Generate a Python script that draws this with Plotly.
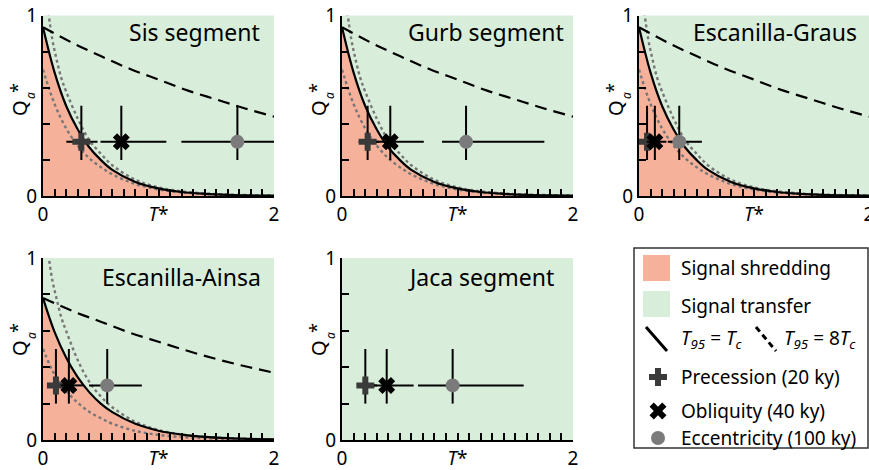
import plotly.graph_objects as go

W, H = 869, 470
FONT = "Noto Sans"
SALMON = "#F6B19B"
GREEN = "#D9EEDA"
DOTGRAY = "#777777"
CIRCGRAY = "#7B7B7B"
PLUSGRAY = "#3A3A3A"

# ---------------- data ----------------
panel_names = ["Sis segment", "Gurb segment", "Escanilla-Graus", "Escanilla-Ainsa", "Jaca segment"]

# solid curve (T95 = Tc), boundary of shredding
T_solid = [0, 0.1, 0.2, 0.3, 0.4, 0.5, 0.6, 0.8, 1.0, 1.2, 1.4, 1.6, 1.8, 2.0]
Q_solid_A = [0.935, 0.685, 0.50, 0.37, 0.27, 0.20, 0.145, 0.078, 0.042, 0.022, 0.012, 0.006, 0.003, 0.002]
Q_solid_B = [0.78, 0.594, 0.453, 0.345, 0.263, 0.20, 0.153, 0.089, 0.051, 0.030, 0.017, 0.010, 0.006, 0.003]

# dashed curve (T95 = 8Tc)
T_dash = [0, 0.25, 0.5, 0.75, 1.0, 1.25, 1.5, 1.75, 2.0]
Q_dash_A = [0.935, 0.85, 0.775, 0.705, 0.645, 0.585, 0.535, 0.485, 0.44]
Q_dash_B = [0.78, 0.71, 0.65, 0.59, 0.54, 0.49, 0.445, 0.405, 0.37]

# upper grey dotted curve
T_up = [0.04, 0.08, 0.12, 0.16, 0.2, 0.3, 0.4, 0.5, 0.6, 0.8, 1.0, 1.2, 1.4, 1.6, 2.0]
Q_up_A = [1.05, 0.87, 0.75, 0.65, 0.58, 0.43, 0.31, 0.235, 0.17, 0.09, 0.048, 0.026, 0.014, 0.008, 0.002]
Q_up_B = [1.05, 0.88, 0.77, 0.67, 0.60, 0.44, 0.32, 0.24, 0.18, 0.10, 0.055, 0.030, 0.017, 0.010, 0.003]

# lower grey dotted curve
T_low = [0, 0.1, 0.2, 0.3, 0.4, 0.5, 0.6, 0.8, 1.0, 1.2, 1.4, 1.6, 2.0]
Q_low_A = [0.70, 0.51, 0.375, 0.28, 0.21, 0.16, 0.12, 0.066, 0.036, 0.020, 0.011, 0.006, 0.002]
Q_low_B = [0.50, 0.36, 0.27, 0.205, 0.155, 0.12, 0.09, 0.05, 0.028, 0.016, 0.009, 0.005, 0.0015]

# points: [precession, obliquity, eccentricity]
T_pts = [[0.332, 0.678, 1.683], [0.222, 0.418, 1.074], [0.07, 0.138, 0.35],
         [0.112, 0.224, 0.556], [0.202, 0.387, 0.958]]
T_err_minus = [[0.13, 0.18, 0.485], [0.078, 0.12, 0.208], [0.06, 0.07, 0.10],
               [0.068, 0.07, 0.157], [0.072, 0.11, 0.30]]
T_err_plus = [[0.14, 0.39, 0.80], [0.10, 0.29, 0.678], [0.05, 0.10, 0.197],
              [0.07, 0.125, 0.30], [0.10, 0.233, 0.615]]
Q_pts = [0.30, 0.30, 0.30]
Q_err_plus = [0.20, 0.20, 0.20]
Q_err_minus = [0.10, 0.10, 0.10]

curve_sets = ["A", "A", "A", "B", None]

x_ticks = [0, 1, 2]
x_ticktext = ["0", "<i>T</i>*", "2"]
x_minor = [0.1 * i for i in range(1, 20)]
y_ticks = [0, 0.2, 0.4, 0.6, 0.8, 1.0]
y_ticktext = ["0", "", "", "", "", "1"]

# ---------------- layout geometry (pixels) ----------------
def px(x):
    return x / W

def py(y):
    return 1 - y / H

panels_px = [  # left, right, top, bottom
    (43, 274, 15.5, 196),
    (342, 573, 15.5, 196),
    (639, 869, 15.5, 196),
    (43, 274, 258, 440),
    (342, 573, 258, 440),
]

fig = go.Figure()
layout = dict(width=W, height=H, margin=dict(l=0, r=0, t=0, b=0, autoexpand=False),
              paper_bgcolor="white", plot_bgcolor="rgba(0,0,0,0)",
              showlegend=False, font=dict(family=FONT, color="black"))
shapes = []
annotations = []

for i in range(5):
    l, r, t, b = panels_px[i]
    xa = "xaxis" if i == 0 else f"xaxis{i+1}"
    ya = "yaxis" if i == 0 else f"yaxis{i+1}"
    xs = "x" if i == 0 else f"x{i+1}"
    ys = "y" if i == 0 else f"y{i+1}"
    layout[xa] = dict(domain=[px(l), px(r)], range=[0, 2], anchor=ys,
                      showline=True, linecolor="black", linewidth=2.2,
                      ticks="inside", ticklen=7, tickwidth=1.6, tickcolor="black",
                      tickvals=x_ticks, ticktext=x_ticktext,
                      tickfont=dict(size=19, family=FONT), automargin=False,
                      ticklabeloverflow="allow",
                      minor=dict(tickvals=x_minor, ticks="inside", ticklen=7,
                                 tickwidth=1.6, tickcolor="black", showgrid=False),
                      showgrid=False, zeroline=False, fixedrange=True)
    layout[ya] = dict(domain=[py(b), py(t)], range=[0, 1], anchor=xs,
                      showline=True, linecolor="black", linewidth=2.2,
                      ticks="inside", ticklen=7, tickwidth=1.6, tickcolor="black",
                      tickvals=y_ticks, ticktext=y_ticktext,
                      tickfont=dict(size=19, family=FONT), automargin=False,
                      showgrid=False, zeroline=False, fixedrange=True)
    # green (signal transfer) background
    shapes.append(dict(type="rect", xref=f"{xs} domain", yref=f"{ys} domain",
                       x0=0, x1=1, y0=0, y1=1, fillcolor=GREEN, line=dict(width=0),
                       layer="below"))

    cs = curve_sets[i]
    if cs is not None:
        qs = Q_solid_A if cs == "A" else Q_solid_B
        qd = Q_dash_A if cs == "A" else Q_dash_B
        qu = Q_up_A if cs == "A" else Q_up_B
        ql = Q_low_A if cs == "A" else Q_low_B
        fig.add_trace(go.Scatter(x=T_solid, y=qs, mode="lines", fill="tozeroy",
                                 fillcolor=SALMON, line=dict(width=0, shape="spline"),
                                 xaxis=xs, yaxis=ys, hoverinfo="skip"))
        fig.add_trace(go.Scatter(x=T_up, y=qu, mode="lines",
                                 line=dict(color=DOTGRAY, width=2.4, dash="3px,3px", shape="spline"),
                                 xaxis=xs, yaxis=ys))
        fig.add_trace(go.Scatter(x=T_low, y=ql, mode="lines",
                                 line=dict(color=DOTGRAY, width=2.4, dash="3px,3px", shape="spline"),
                                 xaxis=xs, yaxis=ys))
        fig.add_trace(go.Scatter(x=T_solid, y=qs, mode="lines",
                                 line=dict(color="black", width=2.2, shape="spline"),
                                 xaxis=xs, yaxis=ys))
        fig.add_trace(go.Scatter(x=T_dash, y=qd, mode="lines",
                                 line=dict(color="black", width=2.2, dash="12px,7px", shape="spline"),
                                 xaxis=xs, yaxis=ys))

    symbols = ["cross", "x", "circle"]
    colors = [PLUSGRAY, "black", CIRCGRAY]
    sizes = [15, 15, 14]
    for k in range(3):
        fig.add_trace(go.Scatter(
            x=[T_pts[i][k]], y=[Q_pts[k]], mode="markers",
            marker=dict(symbol=symbols[k], color=colors[k], size=sizes[k], line=dict(width=0)),
            error_x=dict(type="data", symmetric=False, array=[T_err_plus[i][k]],
                         arrayminus=[T_err_minus[i][k]], color="black", thickness=2, width=0),
            error_y=dict(type="data", symmetric=False, array=[Q_err_plus[k]],
                         arrayminus=[Q_err_minus[k]], color="black", thickness=2, width=0),
            xaxis=xs, yaxis=ys))

    # panel title
    title_right = [262, 566, 859, 263, 556][i]
    title_y = 32 if i < 3 else 277
    annotations.append(dict(text=panel_names[i], xref="paper", yref="paper",
                            x=px(title_right), y=py(title_y), xanchor="right", yanchor="middle",
                            showarrow=False, font=dict(size=23, family=FONT)))
    # y-axis title Q_a*
    qy = 108 if i < 3 else 348
    qx = l - 24
    annotations.append(dict(text="Q", xref="paper", yref="paper", x=px(qx), y=py(qy),
                            xanchor="center", yanchor="middle", textangle=-90,
                            showarrow=False, font=dict(size=20, family=FONT)))
    annotations.append(dict(text="<i>a</i>", xref="paper", yref="paper", x=px(qx + 12), y=py(qy - 12),
                            xanchor="center", yanchor="middle", textangle=-90,
                            showarrow=False, font=dict(size=12, family=FONT)))
    annotations.append(dict(text="*", xref="paper", yref="paper", x=px(qx - 2), y=py(qy - 20),
                            xanchor="center", yanchor="middle", textangle=-90,
                            showarrow=False, font=dict(size=18, family=FONT)))

# ---------------- legend (drawn manually) ----------------
shapes.append(dict(type="rect", xref="paper", yref="paper", x0=px(634), x1=px(868),
                   y0=py(448), y1=py(248), line=dict(color="#333333", width=1.5),
                   fillcolor="white", layer="below"))
shapes.append(dict(type="rect", xref="paper", yref="paper", x0=px(643), x1=px(670),
                   y0=py(281), y1=py(255), line=dict(width=0), fillcolor=SALMON))
shapes.append(dict(type="rect", xref="paper", yref="paper", x0=px(643), x1=px(670),
                   y0=py(317), y1=py(291), line=dict(width=0), fillcolor=GREEN))
shapes.append(dict(type="line", xref="paper", yref="paper", x0=px(646), x1=px(667),
                   y0=py(327), y1=py(351), line=dict(color="black", width=3)))
shapes.append(dict(type="line", xref="paper", yref="paper", x0=px(756), x1=px(776),
                   y0=py(327), y1=py(351), line=dict(color="black", width=3, dash="6px,4px")))

leg_font = dict(size=19, family=FONT)
leg_items = [("Signal shredding", 679, 268), ("Signal transfer", 679, 306),
             ("<i>T</i><sub><i>95</i></sub> = <i>T</i><sub><i>c</i></sub>", 679, 339),
             ("<i>T</i><sub><i>95</i></sub> = 8<i>T</i><sub><i>c</i></sub>", 782, 339),
             ("Precession (20 ky)", 679, 377), ("Obliquity (40 ky)", 679, 411),
             ("Eccentricity (100 ky)", 679, 438)]
for txt, x, y in leg_items:
    annotations.append(dict(text=txt, xref="paper", yref="paper", x=px(x), y=py(y),
                            xanchor="left", yanchor="middle", showarrow=False, font=leg_font))

# legend marker keys on an overlay axis in pixel units
layout["xaxis6"] = dict(domain=[0, 1], range=[0, W], visible=False, anchor="y6", fixedrange=True)
layout["yaxis6"] = dict(domain=[0, 1], range=[H, 0], visible=False, anchor="x6", fixedrange=True)
leg_sym = ["cross", "x", "circle"]
leg_col = [PLUSGRAY, "black", CIRCGRAY]
leg_y = [377, 411, 438]
for k in range(3):
    fig.add_trace(go.Scatter(x=[658], y=[leg_y[k]], mode="markers",
                             marker=dict(symbol=leg_sym[k], color=leg_col[k], size=[15, 15, 14][k],
                                         line=dict(width=0)),
                             xaxis="x6", yaxis="y6", hoverinfo="skip"))

layout["shapes"] = shapes
layout["annotations"] = annotations
fig.update_layout(**layout)
fig.write_html("out.html")
